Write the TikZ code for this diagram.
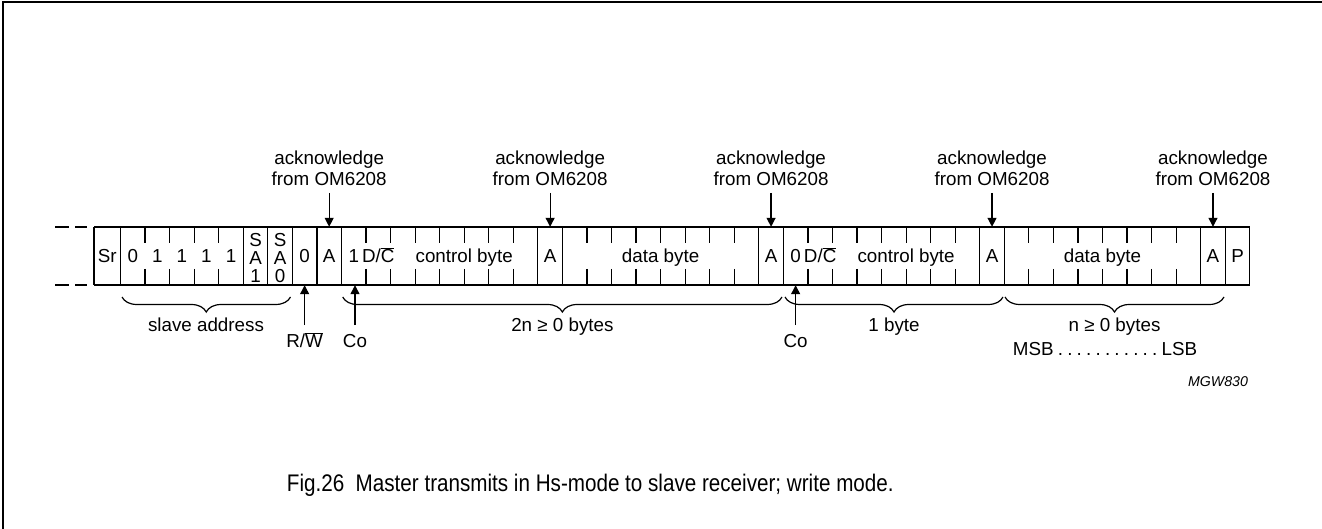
\documentclass[tikz,border=0pt]{standalone}
\usepackage{fontspec}
\setmainfont{Liberation Sans}
\usepackage{graphicx}
\usetikzlibrary{arrows.meta,decorations.pathreplacing}
\newcommand{\dotgap}{\hspace{4.2pt}}
\begin{document}
\begin{tikzpicture}[x=1pt,y=-1pt,
  lab/.style={font=\fontsize{18.8}{21}\selectfont, inner sep=0pt},
  celltext/.style={lab, minimum height=58pt, text height=13.5pt, text depth=0pt},
  stack/.style={inner sep=0pt, align=center, font=\fontsize{18.8}{18}\selectfont},
  frame/.style={line width=1.2pt},
  ackarrow/.style={line width=1.2pt, -{Triangle[length=9pt,width=9pt]}},
  bracestyle/.style={line width=1.2pt, decorate, decoration={brace, mirror, amplitude=15pt}},
]
\useasboundingbox (0,0) rectangle (1322,529);
% outer frame
\draw[line width=2pt] (2.5,529) -- (2.5,2.5) -- (1322,2.5);
% bit frame
\draw[frame] (94,227) -- (1249.8,227) (94,285) -- (1249.8,285);
\draw[frame] (94,227) -- (94,285);
\draw[frame, dash pattern=on 14pt off 6pt] (55,227) -- (87,227);
\draw[frame, dash pattern=on 14pt off 6pt] (55,285) -- (87,285);
\foreach \i in {0,5,6,7,8,9,17,18,26,27,35,36,44,45,46}
  \draw[frame] ({120.5+24.55*\i},227) -- ++(0,58);
\foreach \s/\e in {1/4,10/16,19/25,28/34,37/43}{
  \foreach \i in {\s,...,\e}{
    \draw[frame] ({120.5+24.55*\i},227) -- ({120.5+24.55*\i},243);
    \draw[frame] ({120.5+24.55*\i},269) -- ({120.5+24.55*\i},285);
  }
}
% cell texts
\node[celltext] (sr) at (107.25,256) {Sr};
\node[celltext] (c0) at ({120.5+24.55*0.5},256) {0};
\node[celltext] (c1) at ({120.5+24.55*1.5},256) {1};
\node[celltext] (c2) at ({120.5+24.55*2.5},256) {1};
\node[celltext] (c3) at ({120.5+24.55*3.5},256) {1};
\node[celltext] (c4) at ({120.5+24.55*4.5},256) {1};
\node[stack] (sa1) at ({120.5+24.55*5.5},258) {S\\A\\1};
\node[stack] (sa0) at ({120.5+24.55*6.5},258) {S\\A\\0};
\node[celltext] (rw) at ({120.5+24.55*7.5},256) {0};
\node[celltext] (a1) at ({120.5+24.55*8.5},256) {A};
\node[celltext] (co1) at ({120.5+24.55*9.5},256) {1};
\node[celltext] (dc1) at ({120.5+24.55*10.5},256) {D/$\overline{\mbox{C}}$};
\node[celltext] (ctrl1) at ({120.5+24.55*14},256) {control byte};
\node[celltext] (a2) at ({120.5+24.55*17.5},256) {A};
\node[celltext] (data1) at ({120.5+24.55*22},256) {data byte};
\node[celltext] (a3) at ({120.5+24.55*26.5},256) {A};
\node[celltext] (co2) at ({120.5+24.55*27.5},256) {0};
\node[celltext] (dc2) at ({120.5+24.55*28.5},256) {D/$\overline{\mbox{C}}$};
\node[celltext] (ctrl2) at ({120.5+24.55*32},256) {control byte};
\node[celltext] (a4) at ({120.5+24.55*35.5},256) {A};
\node[celltext] (data2) at ({120.5+24.55*40},256) {data byte};
\node[celltext] (a5) at ({120.5+24.55*44.5},256) {A};
\node[celltext] (p) at ({120.5+24.55*45.5},256) {P};
% acknowledge labels and arrows
\foreach \n/\k in {1/8.5,2/17.5,3/26.5,4/35.5,5/44.5}{
  \node[lab, align=center, anchor=south] (ack\n) at ({120.5+24.55*\k},186) {acknowledge\\from OM6208};
  \draw[ackarrow] ([yshift=-7pt]ack\n.south) -- (a\n.north);
}
% upward arrows
\node[lab, anchor=base] (rwlab) at ({120.5+24.55*7.5},347.7) {R/$\overline{\mbox{W}}$};
\node[lab, anchor=base] (colab1) at (355,347.7) {Co};
\node[lab, anchor=base] (colab2) at ({120.5+24.55*27.5},347.7) {Co};
\coordinate (rwtail) at ({120.5+24.55*7.5},325);
\coordinate (cotail1) at (355,325);
\coordinate (cotail2) at ({120.5+24.55*27.5},325);
\draw[ackarrow] (rwtail) -- (rwtail |- rw.south);
\draw[ackarrow] (cotail1) -- (cotail1 |- co1.south);
\draw[ackarrow] (cotail2) -- (cotail2 |- co2.south);
% braces
\coordinate (br1a) at (122,297); \coordinate (br1b) at (290.5,297);
\coordinate (br2a) at (342.7,297); \coordinate (br2b) at (782,297);
\coordinate (br3a) at (785,297); \coordinate (br3b) at (1003,297);
\coordinate (br4a) at (1005,297); \coordinate (br4b) at (1224,297);
\draw[bracestyle] (br1a) -- (br1b);
\draw[bracestyle] (br2a) -- (br2b);
\draw[bracestyle] (br3a) -- (br3b);
\draw[bracestyle] (br4a) -- (br4b);
\node[lab, anchor=base] (slave) at (206,331.5) {slave address};
\node[lab, anchor=base] (twon) at (562.4,331.5) {2n \char"2265{} 0 bytes};
\node[lab, anchor=base] (onebyte) at (894,331.5) {1 byte};
\node[lab, anchor=base] (nbytes) at (1114.5,331.5) {n \char"2265{} 0 bytes};
\node[lab, anchor=base] (msb) at (1105,355) {MSB\dotgap.\dotgap.\dotgap.\dotgap.\dotgap.\dotgap.\dotgap.\dotgap.\dotgap.\dotgap.\dotgap.\dotgap LSB};
\node[inner sep=0pt, anchor=base, font=\fontsize{14.2}{17}\selectfont\itshape] (mgw) at (1218,386.7) {MGW830};
\node[inner sep=0pt, anchor=base west] (cap) at (286.7,491.7) {\scalebox{0.86}[1]{\fontsize{24}{28}\selectfont Fig.26\ \ Master transmits in Hs-mode to slave receiver; write mode.}};
\end{tikzpicture}
\end{document}
